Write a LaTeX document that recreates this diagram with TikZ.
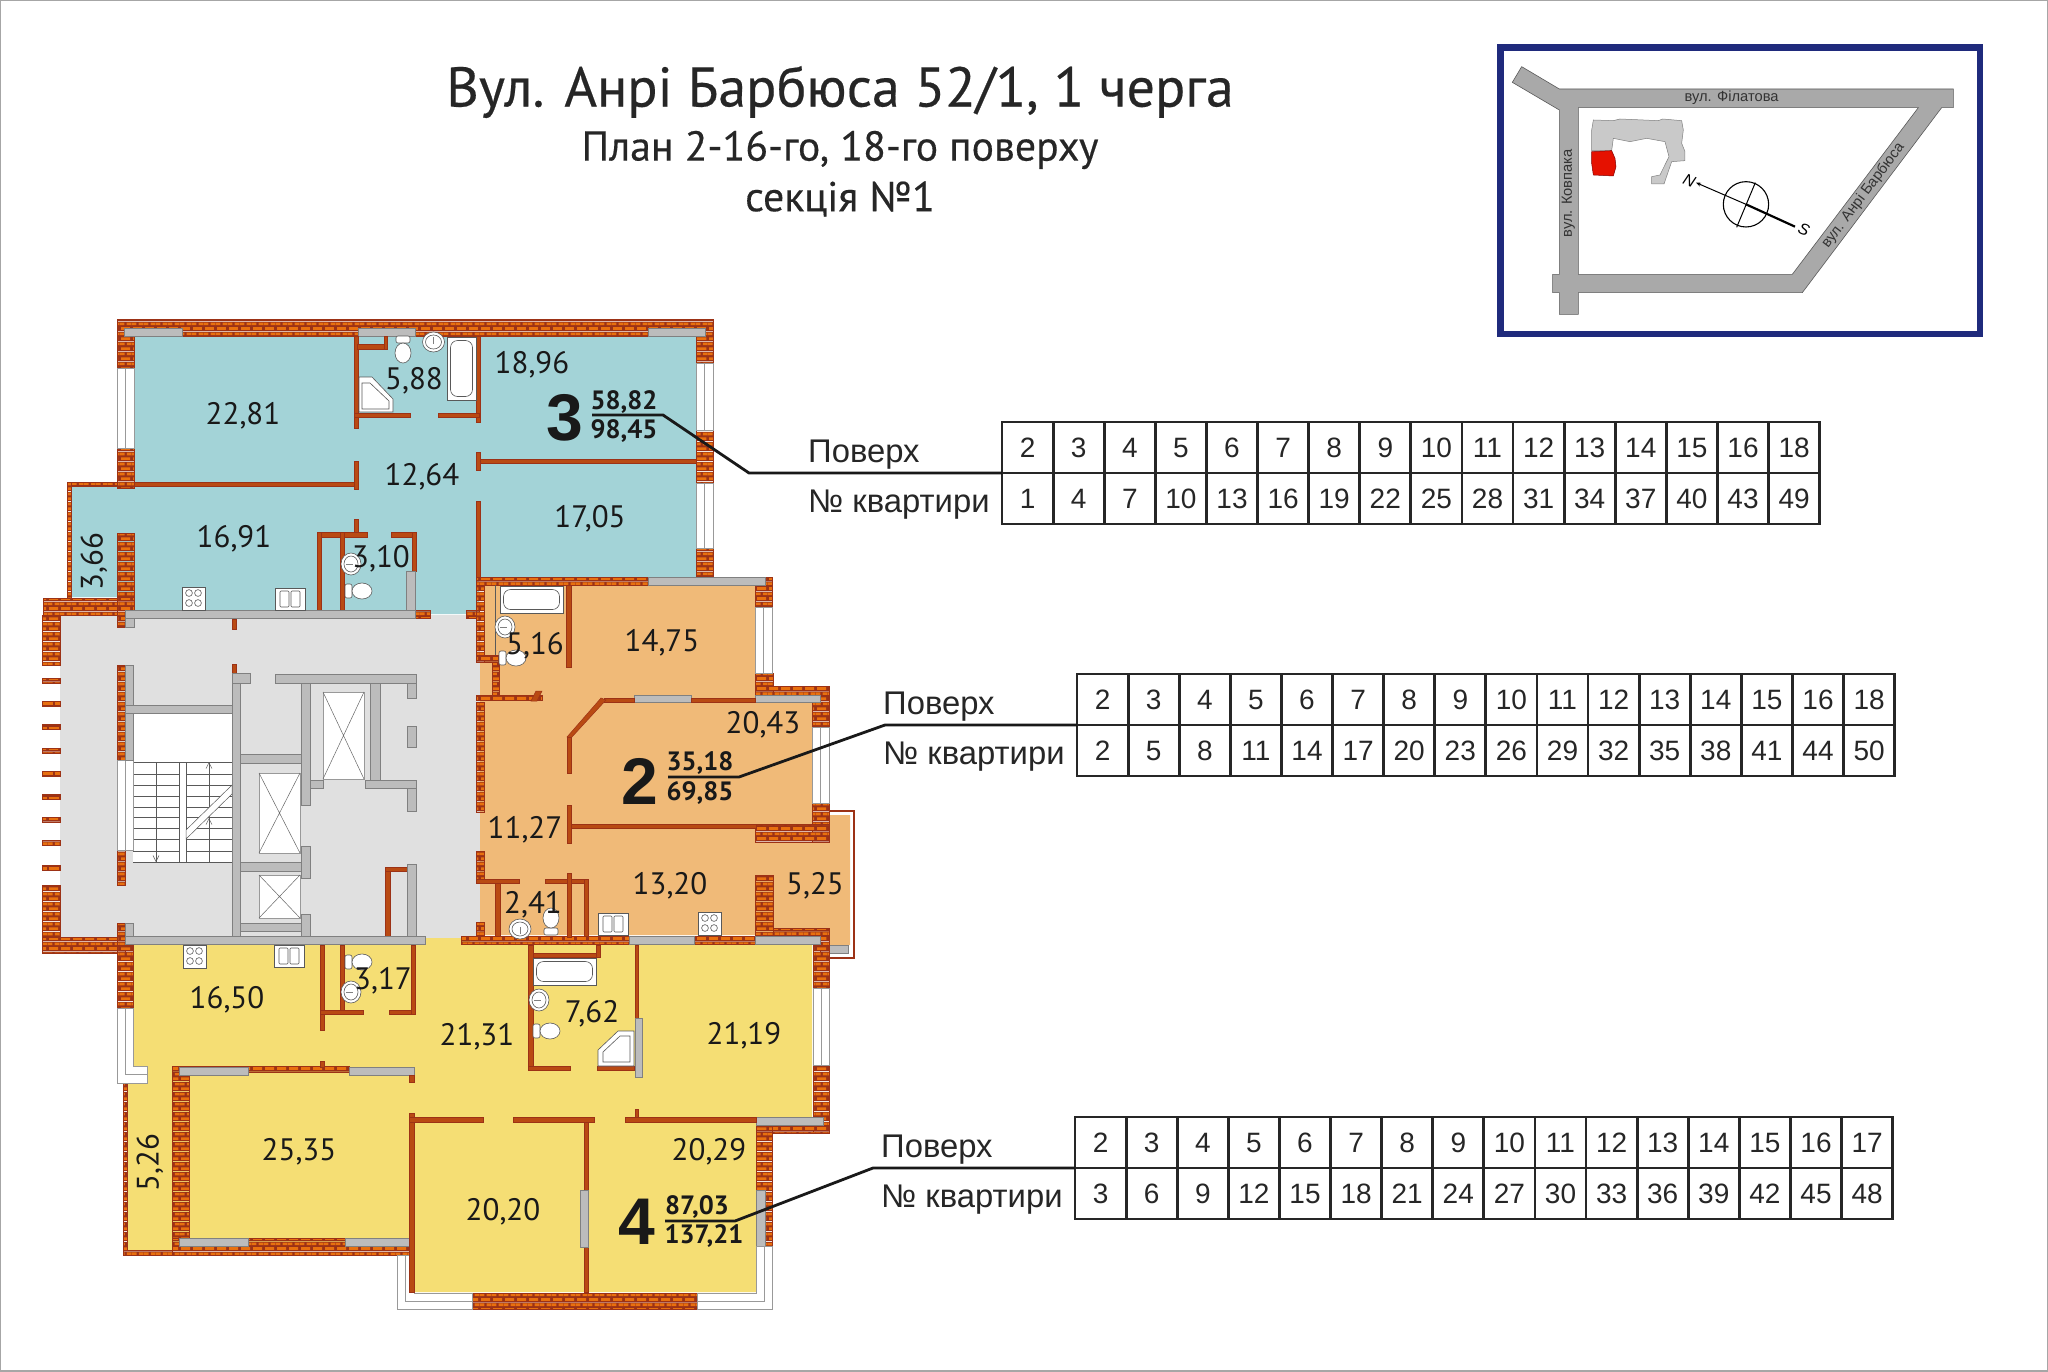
\documentclass[tikz,border=0pt]{standalone}
\usepackage{fontspec}
\setmainfont{Liberation Sans}
\newfontfamily\planfont{PT Sans}
\newfontfamily\titlefont[FakeBold=0.35]{PT Sans}
\usetikzlibrary{patterns,arrows.meta}

\definecolor{flatthree}{HTML}{A3D3D7}
\definecolor{flattwo}{HTML}{F0BA78}
\definecolor{flatfour}{HTML}{F5DE74}
\definecolor{corefloor}{HTML}{E0E0E0}
\definecolor{concrete}{HTML}{BCBCBC}
\definecolor{brickdark}{HTML}{9C3216}
\definecolor{brickface}{HTML}{E8700F}
\definecolor{road}{HTML}{A9A9A9}
\definecolor{framecol}{HTML}{1F2A7C}

\pgfdeclarepatterninherentlycolored{brickwall}{\pgfpointorigin}{\pgfqpoint{12pt}{10pt}}{\pgfqpoint{12pt}{10pt}}{
	\pgfsetfillcolor{brickdark}
	\pgfpathrectangle{\pgfpointorigin}{\pgfqpoint{12pt}{10pt}}\pgfusepath{fill}
	\pgfsetfillcolor{brickface}
	\pgfpathrectangle{\pgfqpoint{1.2pt}{1.2pt}}{\pgfqpoint{9.6pt}{2.8pt}}\pgfusepath{fill}
	\pgfpathrectangle{\pgfqpoint{0pt}{6.2pt}}{\pgfqpoint{4.8pt}{2.8pt}}\pgfusepath{fill}
	\pgfpathrectangle{\pgfqpoint{7.2pt}{6.2pt}}{\pgfqpoint{4.8pt}{2.8pt}}\pgfusepath{fill}
}

\tikzset{
	wall/.style={pattern=brickwall,draw=brickdark,line width=.6pt},
	thinwall/.style={fill=brickdark!62!brickface,draw=brickdark,line width=.5pt},
	slab/.style={fill=concrete,draw=gray,line width=.6pt},
	glass/.style={fill=white,draw=gray!80,line width=.7pt},
	fixture/.style={fill=white,draw=gray!70!black,line width=.6pt},
	roomarea/.style={font=\planfont\fontsize{31}{33}\selectfont,inner sep=0pt,text=black!90,yshift=-2.5pt},
	flatno/.style={font=\bfseries\fontsize{66}{66}\selectfont,inner sep=0pt,text=black!90},
	flatarea/.style={font=\planfont\bfseries\fontsize{26.5}{28}\selectfont,inner sep=0pt,text=black!90},
	cell/.style={draw=black!85,line width=2.8pt,minimum width=51.1pt,minimum height=51pt,inner sep=0pt,font=\fontsize{28}{30}\selectfont,text=black!85},
	rowname/.style={font=\fontsize{32.8}{34}\selectfont,inner sep=0pt,anchor=base west,text=black!85},
	leader/.style={draw=black!90,line width=2.8pt},
	streetname/.style={font=\fontsize{14.7}{15}\selectfont,inner sep=0pt,text=black!80}
}

\begin{document}
\begin{tikzpicture}[x=1pt,y=-1pt]
	\newcommand\vpane[4]{\draw[glass] (#1,#2) rectangle (#3,#4); \draw[gray!80,line width=.6pt] ({(#1+#3)/2},#2) -- ({(#1+#3)/2},#4);}
	\newcommand\liftcar[4]{\draw[glass] (#1,#2) rectangle (#3,#4); \draw[gray!80!black,line width=.5pt] (#1,#2) -- (#3,#4) (#3,#2) -- (#1,#4);}
	\newcommand\cooker[2]{\draw[fixture] (#1,#2) rectangle (#1+23,#2+23);
		\foreach \cx/\cy in {7/6,16/6,7/16,16/16} \draw[fixture] (#1+\cx,#2+\cy) circle (3.4);}
	\newcommand\fridge[2]{\draw[fixture] (#1,#2) rectangle (#1+30,#2+22);
		\draw[fixture,rounded corners=1pt] (#1+5,#2+3) rectangle (#1+14,#2+19);
		\draw[fixture,rounded corners=1pt] (#1+16,#2+3) rectangle (#1+25,#2+19);}
	\newcommand\toilet[3]{\begin{scope}[shift={(#1,#2)},rotate=#3]
		\draw[fixture,rounded corners=2pt] (0,-7) rectangle (7,7);
		\draw[fixture] (17,0) ellipse [x radius=10,y radius=8];
		\end{scope}}
	\newcommand\basin[3]{\begin{scope}[shift={(#1,#2)},rotate=#3]
		\draw[fixture] (6,0) ellipse [x radius=10,y radius=11];
		\draw[fixture] (6,0) ellipse [x radius=7,y radius=8];
		\draw[gray,line width=.5pt] (1,0) -- (8,0);
		\end{scope}}
	\newcommand\bathtub[4]{\draw[fixture] (#1,#2) rectangle (#3,#4);
		\draw[fixture,rounded corners=7pt] (#1+3.5,#2+3.5) rectangle (#3-3.5,#4-3.5);}
	\newcommand\flattable[5]{
		\node[rowname] (#1floorname) at (#2-194,#3-11) {Поверх};
		\node[rowname] (#1flatname) at (#2-194,#3+39) {№ квартири};
		\foreach \val [count=\i] in {#4} \node[cell] (#1floor\i) at (#2-25.5+51.1*\i,#3-25.5) {\val};
		\foreach \val [count=\i] in {#5} \node[cell] (#1flat\i) at (#2-25.5+51.1*\i,#3+25.5) {\val};
	}

	\useasboundingbox (0,0) rectangle (2048,1371);
	\fill[white] (0,0) rectangle (2048,1371);
	\draw[gray!70,line width=1.5pt] (0,0) rectangle (2048,1371);

	\node[font=\titlefont\fontsize{56}{58}\selectfont,inner sep=0pt,text=black!85] (title) at (840,92) {Вул. Анрі Барбюса 52/1, 1 черга};
	\node[font=\titlefont\fontsize{41.8}{44}\selectfont,inner sep=0pt,text=black!85] (subtitle) at (840,150) {План 2-16-го, 18-го поверху};
	\node[font=\titlefont\fontsize{41.8}{44}\selectfont,inner sep=0pt,text=black!85] (section) at (840,199) {секція №1};

	% floor fills
	\fill[corefloor] (60,615) rectangle (480,940);
	\fill[flatthree] (134,336) -- (696,336) -- (696,577) -- (479,577) -- (479,614) -- (415,614) -- (415,610) -- (134,610) -- (134,597) -- (71,597) -- (71,485) -- (134,485) -- cycle;
	\fill[flattwo] (484,585) -- (755,585) -- (755,700) -- (812,700) -- (812,824) -- (756,824) -- (756,842) -- (829,842) -- (829,815) -- (850,815) -- (850,945) -- (829,945) -- (829,935) -- (480,935) -- (480,662) -- (484,662) -- cycle;
	\fill[flatfour] (133,945) -- (425,945) -- (425,938) -- (470,938) -- (470,945) -- (812,945) -- (812,1117) -- (756,1117) -- (756,1292) -- (414,1292) -- (414,1250) -- (127,1250) -- (127,1083) -- (147,1083) -- (147,1066) -- (133,1066) -- cycle;

	% outer walls, flat 3
	\draw[wall] (117,319) rectangle (713,336);
	\draw[wall] (117,336) rectangle (134,368);
	\draw[wall] (117,448) rectangle (134,488);
	\draw[wall] (696,336) rectangle (713,363);
	\draw[wall] (696,430) rectangle (713,483);
	\draw[wall] (696,548) rectangle (713,577);
	\draw[wall] (67,482) rectangle (117,486);
	\draw[wall] (67,482) rectangle (71,598);
	\draw[wall] (117,533) rectangle (134,610);
	\vpane{117}{368}{134}{448}
	\vpane{696}{363}{713}{430}
	\vpane{696}{483}{713}{548}
	\draw[slab] (124,328) rectangle (182,336);
	\draw[slab] (358,328) rectangle (415,336);
	\draw[slab] (648,328) rectangle (705,336);

	% inner walls, flat 3
	\draw[thinwall] (354,336) rectangle (358,428);
	\draw[thinwall] (476,336) rectangle (480,422);
	\draw[thinwall] (354,413) rectangle (410,417);
	\draw[thinwall] (438,413) rectangle (479,417);
	\draw[thinwall] (357,344) rectangle (387,349);
	\draw[thinwall] (384,336) rectangle (387,349);
	\draw[thinwall] (476,459) rectangle (696,463);
	\draw[thinwall] (476,452) rectangle (480,470);
	\draw[thinwall] (476,501) rectangle (480,577);
	\draw[thinwall] (134,482) rectangle (356,486);
	\draw[thinwall] (354,461) rectangle (358,489);
	\draw[thinwall] (354,519) rectangle (358,533);
	\draw[thinwall] (317,532) rectangle (367,537);
	\draw[thinwall] (391,532) rectangle (416,537);
	\draw[thinwall] (317,532) rectangle (321,610);
	\draw[thinwall] (340,532) rectangle (344,610);
	\draw[thinwall] (412,532) rectangle (416,571);

	% stair and lift core
	\draw[wall] (43,598) rectangle (117,615);
	\draw[wall] (117,597) rectangle (134,610);
	\draw[wall] (42,615) rectangle (60,665);
	\foreach \ribY in {678,701,724,748,771,794,817,840,865}
		\draw[wall] (42,\ribY) rectangle (60,\ribY+5);
	\draw[wall] (42,885) rectangle (60,937);
	\draw[wall] (42,937) rectangle (133,953);
	\draw[wall] (117,665) rectangle (125,760);
	\draw[wall] (117,850) rectangle (125,885);
	\draw[wall] (117,923) rectangle (125,953);
	\draw[wall] (117,610) rectangle (125,627);
	\draw[wall] (415,610) rectangle (430,618);
	\draw[wall] (466,610) rectangle (479,618);
	\draw[thinwall] (232,619) rectangle (236,629);
	\draw[thinwall] (232,664) rectangle (236,673);
	\draw[thinwall] (385,867) rectangle (390,936);
	\draw[thinwall] (385,867) rectangle (407,871);

	\fill[white] (133,714) rectangle (232,862);
	\draw[gray!70!black,line width=.5pt] (133,762) -- (232,762);
	\foreach \stepY in {774,785,796,807,817,828,839,851,862}
		\draw[gray!70!black,line width=.5pt] (133,\stepY) -- (232,\stepY);
	\draw[gray!70!black,line width=.5pt] (156,762) -- (156,862) (209,762) -- (209,862);
	\draw[fill=white,draw=gray!70!black,line width=.5pt] (179,762) rectangle (186,862);
	\draw[gray!70!black,line width=.5pt,fill=white] (186,830) -- (232,785) -- (232,794) -- (186,839) -- cycle;
	\coordinate (upA) at (209,772); \coordinate (upB) at (209,762);
	\coordinate (upC) at (209,828); \coordinate (upD) at (209,818);
	\coordinate (downA) at (156,852); \coordinate (downB) at (156,862);
	\draw[-{Straight Barb[length=6pt,width=6pt]},gray!70!black,line width=.5pt] (upA) -- (upB);
	\draw[-{Straight Barb[length=6pt,width=6pt]},gray!70!black,line width=.5pt] (upC) -- (upD);
	\draw[-{Straight Barb[length=6pt,width=6pt]},gray!70!black,line width=.5pt] (downA) -- (downB);
	\vpane{117}{760}{133}{850}

	\draw[slab] (125,610) rectangle (415,618);
	\draw[slab] (406,571) rectangle (415,610);
	\draw[slab] (125,618) rectangle (134,627);
	\draw[slab] (125,665) rectangle (133,760);
	\draw[slab] (125,705) rectangle (239,713);
	\draw[slab] (232,673) rectangle (240,936);
	\draw[slab] (232,673) rectangle (250,683);
	\draw[slab] (275,674) rectangle (416,683);
	\draw[slab] (301,683) rectangle (310,805);
	\draw[slab] (370,683) rectangle (380,780);
	\draw[slab] (407,683) rectangle (416,698);
	\draw[slab] (310,780) rectangle (323,788);
	\draw[slab] (365,780) rectangle (416,788);
	\draw[slab] (407,788) rectangle (416,811);
	\draw[slab] (407,726) rectangle (416,747);
	\draw[slab] (240,754) rectangle (301,763);
	\draw[slab] (240,862) rectangle (301,871);
	\draw[slab] (301,846) rectangle (310,878);
	\draw[slab] (240,923) rectangle (301,931);
	\draw[slab] (301,914) rectangle (310,936);
	\draw[slab] (407,864) rectangle (416,936);
	\draw[slab] (125,936) rectangle (425,944);
	\draw[slab] (125,923) rectangle (133,936);
	\liftcar{323}{692}{364}{779}
	\liftcar{259}{773}{300}{853}
	\liftcar{259}{875}{300}{918}

	% flat 2 walls
	\draw[wall] (476,577) rectangle (772,585);
	\draw[wall] (476,585) rectangle (484,662);
	\draw[wall] (476,655) rectangle (498,662);
	\draw[wall] (492,662) rectangle (499,697);
	\draw[gray!70!black,line width=.5pt] (495,585) -- (495,655);
	\draw[wall] (755,585) rectangle (772,607);
	\draw[wall] (755,673) rectangle (773,695);
	\draw[wall] (755,686) rectangle (829,695);
	\draw[wall] (812,695) rectangle (829,727);
	\draw[wall] (812,803) rectangle (829,842);
	\draw[wall] (755,824) rectangle (829,842);
	\draw[wall] (755,875) rectangle (773,935);
	\draw[wall] (773,928) rectangle (829,935);
	\draw[wall] (476,702) rectangle (484,812);
	\draw[wall] (476,695) rectangle (542,700);
	\draw[wall] (476,851) rectangle (484,883);
	\draw[wall] (476,922) rectangle (484,935);
	\draw[wall] (461,936) rectangle (820,944);
	\draw[wall] (820,935) rectangle (829,958);
	\draw[brickdark,line width=1.2pt] (829,958) -- (854,958) -- (854,811) -- (829,811);
	\draw[slab] (829,945) rectangle (848,953);
	\draw[slab] (648,577) rectangle (765,585);
	\draw[slab] (634,695) rectangle (691,702);
	\draw[slab] (755,695) rectangle (820,702);
	\draw[slab] (629,936) rectangle (694,944);
	\draw[slab] (755,936) rectangle (820,944);
	\vpane{755}{607}{772}{673}
	\vpane{812}{727}{829}{803}
	\draw[thinwall] (604,698) rectangle (634,702);
	\draw[thinwall] (691,698) rectangle (755,702);
	\draw[thinwall] (567,824) rectangle (756,828);
	\draw[thinwall] (567,805) rectangle (571,843);
	\draw[thinwall] (566,585) rectangle (571,667);
	\draw[thinwall] (536,691) -- (542,691) -- (537,701) -- (531,701) -- cycle;
	\draw[thinwall] (601,698) -- (606,700) -- (571,738) -- (567,737) -- cycle;
	\draw[thinwall] (567,737) rectangle (571,773);
	\draw[thinwall] (476,879) rectangle (519,883);
	\draw[thinwall] (545,879) rectangle (588,883);
	\draw[thinwall] (567,873) rectangle (571,937);
	\draw[thinwall] (495,883) rectangle (500,936);
	\draw[thinwall] (584,879) rectangle (588,936);

	% flat 4 walls
	\draw[wall] (117,945) rectangle (133,1008);
	\draw[wall] (813,945) rectangle (829,988);
	\draw[wall] (813,1065) rectangle (829,1133);
	\draw[wall] (756,1125) rectangle (829,1133);
	\draw[wall] (756,1125) rectangle (772,1246);
	\draw[wall] (172,1066) rectangle (189,1250);
	\draw[wall] (172,1066) rectangle (349,1072);
	\draw[wall] (172,1238) rectangle (414,1255);
	\draw[wall] (123,1250) rectangle (172,1255);
	\draw[wall] (123,1083) rectangle (127,1250);
	\draw[wall] (472,1293) rectangle (697,1309);
	\draw[slab] (179,1067) rectangle (248,1075);
	\draw[slab] (349,1067) rectangle (414,1075);
	\draw[slab] (179,1238) rectangle (248,1246);
	\draw[slab] (345,1238) rectangle (414,1246);
	\draw[slab] (756,1117) rectangle (823,1125);
	\draw[slab] (756,1190) rectangle (765,1246);
	\vpane{813}{988}{829}{1065}
	% bay windows
	\draw[glass] (117,1008) -- (133,1008) -- (133,1066) -- (147,1066) -- (147,1083) -- (117,1083) -- cycle;
	\draw[gray!80,line width=.6pt] (125,1008) -- (125,1074) -- (147,1074);
	\draw[glass] (397,1255) -- (414,1255) -- (414,1293) -- (472,1293) -- (472,1309) -- (397,1309) -- cycle;
	\draw[gray!80,line width=.6pt] (405,1255) -- (405,1301) -- (472,1301);
	\draw[glass] (756,1246) -- (772,1246) -- (772,1309) -- (697,1309) -- (697,1293) -- (756,1293) -- cycle;
	\draw[gray!80,line width=.6pt] (764,1246) -- (764,1301) -- (697,1301);

	\draw[thinwall] (528,945) rectangle (533,1070);
	\draw[thinwall] (528,1066) rectangle (570,1070);
	\draw[thinwall] (597,1066) rectangle (634,1070);
	\draw[thinwall] (635,945) rectangle (638,1018);
	\draw[thinwall] (533,953) rectangle (600,957);
	\draw[thinwall] (596,945) rectangle (600,957);
	\draw[slab] (635,1018) rectangle (642,1077);
	\draw[thinwall] (320,945) rectangle (324,1030);
	\draw[thinwall] (340,945) rectangle (344,1010);
	\draw[thinwall] (320,1010) rectangle (363,1014);
	\draw[thinwall] (389,1010) rectangle (415,1014);
	\draw[thinwall] (411,945) rectangle (415,1014);
	\draw[thinwall] (320,1061) rectangle (324,1067);
	\draw[thinwall] (409,1075) rectangle (414,1082);
	\draw[thinwall] (409,1113) rectangle (414,1292);
	\draw[thinwall] (409,1117) rectangle (483,1122);
	\draw[thinwall] (513,1117) rectangle (594,1122);
	\draw[thinwall] (625,1117) rectangle (756,1122);
	\draw[thinwall] (635,1109) rectangle (638,1117);
	\draw[thinwall] (584,1122) rectangle (588,1292);
	\draw[slab] (580,1190) rectangle (588,1247);

	% fixtures
	\toilet{403}{336}{-90}
	\basin{433.5}{336}{-90}
	\bathtub{447}{337}{476}{400}
	\draw[fixture] (359,377) -- (372,377) -- (393,399) -- (393,412) -- (359,412) -- cycle;
	\draw[fixture] (362,383) -- (370,383) -- (389,401) -- (389,409) -- (362,409) -- cycle;
	\toilet{345}{591}{0}
	\basin{345}{564}{0}
	\cooker{182}{587}
	\fridge{275}{588}
	\bathtub{500}{586}{563}{613}
	\basin{499}{627}{0}
	\toilet{499}{658}{0}
	\basin{520}{935}{90}
	\toilet{551}{935}{90}
	\fridge{598}{913}
	\cooker{698}{912}
	\cooker{183}{945}
	\fridge{274}{945}
	\toilet{345}{962}{0}
	\basin{345}{992}{0}
	\bathtub{533}{958}{596}{985}
	\basin{533}{1000}{0}
	\toilet{533}{1031}{0}
	\draw[fixture] (634,1031) -- (618,1031) -- (598,1050) -- (598,1066) -- (634,1066) -- cycle;
	\draw[fixture] (630,1036) -- (620,1036) -- (603,1052) -- (603,1062) -- (630,1062) -- cycle;

	% leader lines and tables
	\flattable{up}{1002}{473}{2,3,4,5,6,7,8,9,10,11,12,13,14,15,16,18}{1,4,7,10,13,16,19,22,25,28,31,34,37,40,43,49}
	\flattable{mid}{1077}{725}{2,3,4,5,6,7,8,9,10,11,12,13,14,15,16,18}{2,5,8,11,14,17,20,23,26,29,32,35,38,41,44,50}
	\flattable{low}{1075}{1168}{2,3,4,5,6,7,8,9,10,11,12,13,14,15,16,17}{3,6,9,12,15,18,21,24,27,30,33,36,39,42,45,48}

	\coordinate (upbendA) at (663,415); \coordinate (upbendB) at (749,473); \coordinate (upstart) at (592,415); \coordinate (upend) at (1002,473);
	\coordinate (midbendA) at (739,777); \coordinate (midbendB) at (885,725); \coordinate (midstart) at (668,777); \coordinate (midend) at (1077,725);
	\coordinate (lowbendA) at (735,1221); \coordinate (lowbendB) at (873,1168); \coordinate (lowstart) at (665,1221); \coordinate (lowend) at (1075,1168);
	\draw[leader] (upstart) -- (upbendA) -- (upbendB) -- (upend);
	\draw[leader] (midstart) -- (midbendA) -- (midbendB) -- (midend);
	\draw[leader] (lowstart) -- (lowbendA) -- (lowbendB) -- (lowend);

	% room areas
	\node[roomarea] (a2281) at (243,413) {22,81};
	\node[roomarea] (a588) at (414,378) {5,88};
	\node[roomarea] (a1896) at (532,362) {18,96};
	\node[roomarea] (a1264) at (422,474) {12,64};
	\node[roomarea] (a1705) at (590,516) {17,05};
	\node[roomarea] (a1691) at (234,536) {16,91};
	\node[roomarea] (a310) at (381,556) {3,10};
	\node[roomarea,rotate=90] (a366) at (94,559) {3,66};
	\node[roomarea] (a1475) at (662,640) {14,75};
	\node[roomarea] (a516) at (535,643) {5,16};
	\node[roomarea] (a2043) at (763,722) {20,43};
	\node[roomarea] (a1127) at (525,827) {11,27};
	\node[roomarea] (a1320) at (670,883) {13,20};
	\node[roomarea] (a525) at (815,883) {5,25};
	\node[roomarea] (a241) at (533,902) {2,41};
	\node[roomarea] (a1650) at (227,997) {16,50};
	\node[roomarea] (a317) at (383,978) {3,17};
	\node[roomarea] (a2131) at (477,1034) {21,31};
	\node[roomarea] (a762) at (592,1011) {7,62};
	\node[roomarea] (a2119) at (744,1033) {21,19};
	\node[roomarea] (a2535) at (299,1149) {25,35};
	\node[roomarea] (a2020) at (503,1209) {20,20};
	\node[roomarea] (a2029) at (709,1149) {20,29};
	\node[roomarea,rotate=90] (a526) at (150,1160) {5,26};

	\node[flatno] (flat3) at (565,418) {3};
	\node[flatarea] (live3) at (624,402) {58,82};
	\node[flatarea] (total3) at (624,431) {98,45};
	\node[flatno] (flat2) at (640,781) {2};
	\node[flatarea] (live2) at (700,763) {35,18};
	\node[flatarea] (total2) at (700,793) {69,85};
	\node[flatno] (flat4) at (637,1222) {4};
	\node[flatarea] (live4) at (697,1207) {87,03};
	\node[flatarea] (total4) at (704,1236) {137,21};

	% site map
	\begin{scope}[shift={(1480,30)},x=.3333pt,y=-.3333pt]
		\draw[framecol,line width=6.5pt] (62,53) rectangle (1500,912);
		\draw[fill=road,draw=gray!70!black,line width=.6pt,even odd rule] (125,110) -- (238,177) -- (1420,177) -- (1420,233) -- (1385,233) -- (967,788) -- (295,788) -- (295,853) -- (238,853) -- (238,788) -- (218,788) -- (218,733) -- (238,733) -- (238,240) -- (97,157) -- cycle
			(295,233) -- (1315,233) -- (937,733) -- (295,733) -- cycle;
		\draw[fill=gray!42,draw=gray,line width=.5pt] (340,270) -- (400,272) -- (420,267) -- (490,270) -- (535,272) -- (548,267) -- (605,272) -- (610,300) -- (605,340) -- (615,365) -- (615,392) -- (575,395) -- (552,462) -- (515,462) -- (515,440) -- (540,435) -- (567,380) -- (555,335) -- (500,325) -- (450,335) -- (400,325) -- (395,362) -- (335,362) -- (335,300) -- cycle;
		\draw[fill=red!85!orange!90!black,draw=red!50!black,line width=.5pt] (335,365) -- (395,362) -- (405,385) -- (408,410) -- (400,438) -- (340,435) -- (335,400) -- cycle;
		\coordinate (compass) at (798,523);
		\coordinate (north) at (648,458);
		\coordinate (south) at (945,590);
		\coordinate (crossA) at (826,458);
		\coordinate (crossB) at (770,592);
		\draw[black,line width=1.1pt] (compass) circle [x radius=68,y radius=68];
		\draw[-{Stealth[length=5pt,width=4pt]},black,line width=1pt] (compass) -- (north);
		\draw[black,line width=2.2pt] (compass) -- (south);
		\draw[black,line width=1pt] (crossA) -- (crossB);
		\node[font=\itshape\fontsize{16}{16}\selectfont,inner sep=0pt,rotate=-23] (northname) at (628,452) {N};
		\node[font=\itshape\fontsize{16}{16}\selectfont,inner sep=0pt,rotate=-23] (southname) at (972,598) {S};
		\node[streetname] (filatova) at (755,203) {вул. Філатова};
		\node[streetname,rotate=90] (kovpaka) at (265,490) {вул. Ковпака};
		\node[streetname,rotate=53] (barbusse) at (1150,497) {вул. Анрі Барбюса};
	\end{scope}
\end{tikzpicture}
\end{document}
